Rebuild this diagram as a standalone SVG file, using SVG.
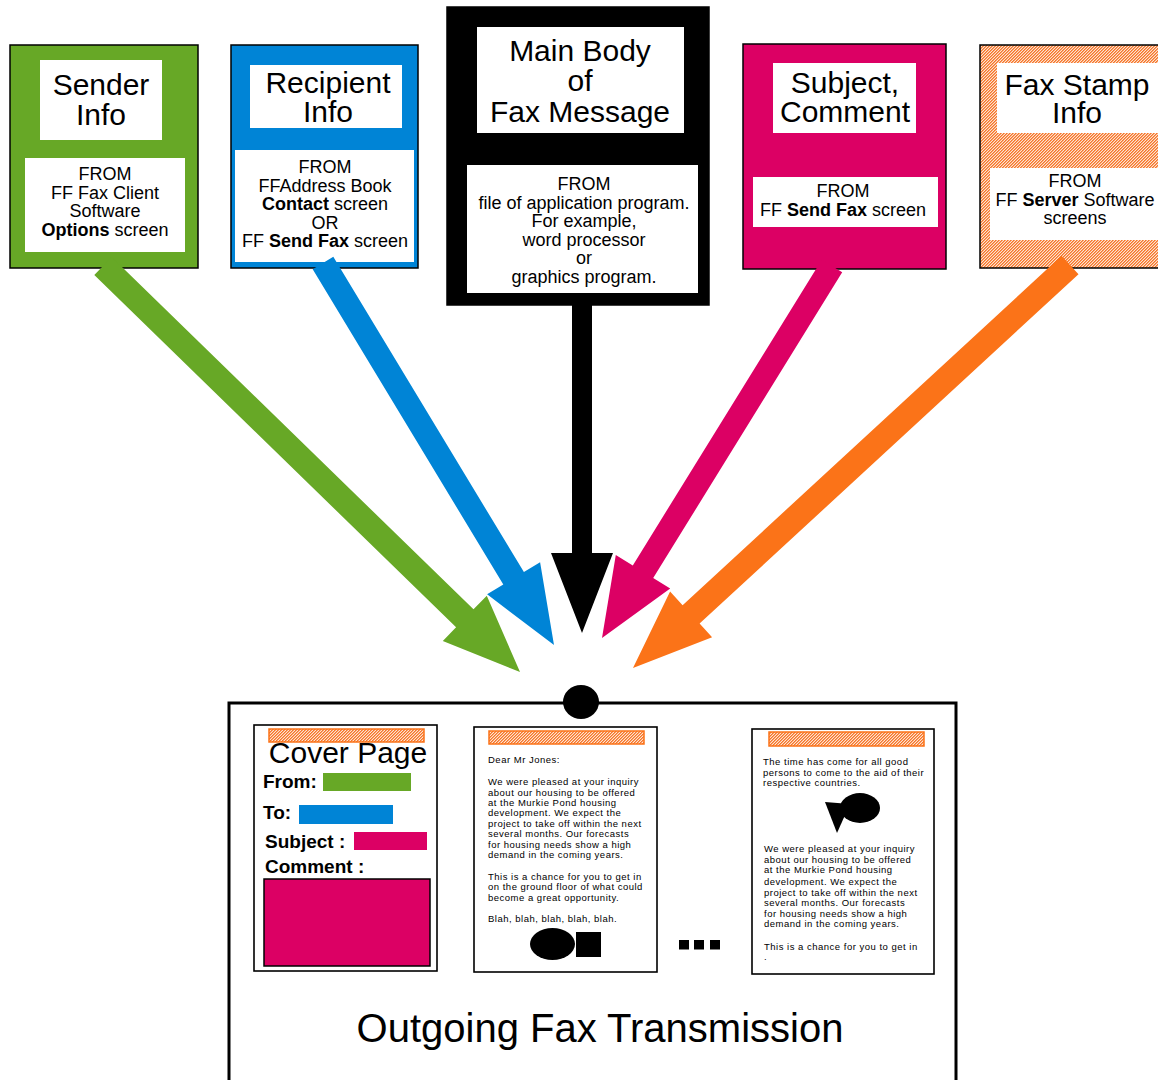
<svg xmlns="http://www.w3.org/2000/svg" width="1158" height="1080" viewBox="0 0 1158 1080">
<defs>
<pattern id="hatch" patternUnits="userSpaceOnUse" width="3" height="3">
<rect width="3" height="3" fill="#fde3d2"/>
<rect x="0" y="2" width="1" height="1" fill="#f6762a"/>
<rect x="1" y="1" width="1" height="1" fill="#f6762a"/>
<rect x="2" y="0" width="1" height="1" fill="#f6762a"/>
<rect x="1" y="2" width="1" height="1" fill="#f9a06a"/>
<rect x="2" y="1" width="1" height="1" fill="#f9a06a"/>
<rect x="0" y="0" width="1" height="1" fill="#f9a06a"/>
</pattern>
</defs>
<style>
text{font-family:"Liberation Sans",Arial,sans-serif;fill:#000}
.outer{stroke:#000;stroke-width:1.5}
.wb{fill:#fff}
.title{font-size:30px;text-anchor:middle}
.from{font-size:18px;text-anchor:middle}
.b{font-weight:bold}
.page{fill:#fff;stroke:#000;stroke-width:1.6}
.bar{fill:url(#hatch);stroke:#fb7318;stroke-width:1.5}
.sm{font-size:9.5px;letter-spacing:0.5px}
.lbl{font-size:19px;font-weight:bold}
</style>
<rect width="1158" height="1080" fill="#fff"/>

<g id="sender">
<rect class="outer" x="10" y="45" width="188" height="223" fill="#67a826"/>
<rect class="wb" x="40" y="60" width="122" height="80"/>
<text class="title" x="101" y="95">Sender</text>
<text class="title" x="101" y="125">Info</text>
<rect class="wb" x="25" y="158" width="160" height="94"/>
<text class="from" x="105" y="180">FROM</text>
<text class="from" x="105" y="198.5">FF Fax Client</text>
<text class="from" x="105" y="217">Software</text>
<text class="from" x="105" y="235.5"><tspan class="b">Options</tspan> screen</text>
</g>

<g id="recipient">
<rect class="outer" x="231" y="45" width="187" height="223" fill="#0084d6"/>
<rect class="wb" x="250" y="65" width="152" height="63"/>
<text class="title" x="328" y="93">Recipient</text>
<text class="title" x="328" y="122">Info</text>
<rect class="wb" x="235" y="150" width="179" height="112"/>
<text class="from" x="325" y="173">FROM</text>
<text class="from" x="325" y="191.5">FFAddress Book</text>
<text class="from" x="325" y="210"><tspan class="b">Contact</tspan> screen</text>
<text class="from" x="325" y="228.5">OR</text>
<text class="from" x="325" y="247"><tspan>FF </tspan><tspan class="b">Send Fax</tspan> screen</text>
</g>

<g id="mainbody">
<rect class="outer" x="447" y="7" width="262" height="298" fill="#000"/>
<rect class="wb" x="477" y="27" width="207" height="106"/>
<text class="title" x="580" y="61">Main Body</text>
<text class="title" x="580" y="91">of</text>
<text class="title" x="580" y="122">Fax Message</text>
<rect class="wb" x="467" y="165" width="231" height="128"/>
<text class="from" x="584" y="190">FROM</text>
<text class="from" x="584" y="208.5">file of application program.</text>
<text class="from" x="584" y="227">For example,</text>
<text class="from" x="584" y="245.5">word processor</text>
<text class="from" x="584" y="264">or</text>
<text class="from" x="584" y="282.5">graphics program.</text>
</g>

<g id="subject">
<rect class="outer" x="743" y="44" width="203" height="225" fill="#dc0064"/>
<rect class="wb" x="773" y="63" width="143" height="70"/>
<text class="title" x="845" y="93">Subject,</text>
<text class="title" x="845" y="122">Comment</text>
<rect class="wb" x="753" y="177" width="185" height="50"/>
<text class="from" x="843" y="197">FROM</text>
<text class="from" x="843" y="215.5"><tspan>FF </tspan><tspan class="b">Send Fax</tspan> screen</text>
</g>

<g id="faxstamp">
<rect class="outer" x="980" y="45" width="190" height="223" fill="url(#hatch)"/>
<rect class="wb" x="997" y="63" width="170" height="70"/>
<text class="title" x="1077" y="95">Fax Stamp</text>
<text class="title" x="1077" y="123">Info</text>
<rect class="wb" x="990" y="168" width="180" height="72"/>
<text class="from" x="1075" y="187">FROM</text>
<text class="from" x="1075" y="205.5"><tspan>FF </tspan><tspan class="b">Server</tspan> Software</text>
<text class="from" x="1075" y="224">screens</text>
</g>

<g id="connectors">
<polygon fill="#67a826" points="94.3,275 456.1,627.3 442.8,640.9 520,672 486.8,595.7 473.5,609.3 111.7,257"/>
<polygon fill="#0084d6" points="312.7,269.2 503.3,584.5 487.1,594.3 554,645 540.1,562.3 523.9,572.1 333.3,256.8"/>
<polygon fill="#000" points="572,300 592,300 592,553 613,553 582,633 551,553 572,553"/>
<polygon fill="#dc0064" points="821.8,259.7 632.8,565.4 615.8,554.9 602,638 670.2,588.5 653.2,578 842.2,272.3"/>
<polygon fill="#fb7318" points="1061.5,255.8 682.6,605.2 670.1,591.6 633,668 712.1,637.2 699.6,623.6 1078.5,274.2"/>
</g>

<g id="transmission">
<rect x="229" y="703" width="727" height="390" fill="#fff" stroke="#000" stroke-width="3"/>
<ellipse cx="581" cy="702" rx="18" ry="17" fill="#000"/>
<text x="600" y="1042" font-size="40" text-anchor="middle">Outgoing Fax Transmission</text>
<rect x="679" y="940" width="10" height="9.5" fill="#000"/>
<rect x="694" y="940" width="10" height="9.5" fill="#000"/>
<rect x="710" y="940" width="10" height="9.5" fill="#000"/>
</g>

<g id="coverpage">
<rect class="page" x="254" y="725" width="183" height="246"/>
<rect class="bar" x="269" y="729" width="155" height="13"/>
<text x="348" y="763" font-size="30" text-anchor="middle">Cover Page</text>
<text class="lbl" x="263" y="788">From:</text>
<rect x="323" y="773" width="88" height="18" fill="#67a826"/>
<text class="lbl" x="263" y="819">To:</text>
<rect x="299" y="805" width="94" height="19" fill="#0084d6"/>
<text class="lbl" x="265" y="848">Subject :</text>
<rect x="354" y="832" width="73" height="18" fill="#dc0064"/>
<text class="lbl" x="265" y="873">Comment :</text>
<rect x="264" y="879" width="166" height="87" fill="#dc0064" stroke="#000" stroke-width="1.5"/>
</g>

<g id="page2">
<rect class="page" x="474" y="727" width="183" height="245"/>
<rect class="bar" x="489" y="731" width="155" height="13"/>
<text class="sm" x="488" y="763">Dear Mr Jones:</text>
<text class="sm" x="488" y="785">We were pleased at your inquiry</text>
<text class="sm" x="488" y="795.5">about our housing to be offered</text>
<text class="sm" x="488" y="806">at the Murkie Pond housing</text>
<text class="sm" x="488" y="816">development.  We expect the</text>
<text class="sm" x="488" y="826.5">project to take off within the next</text>
<text class="sm" x="488" y="837">several months.  Our forecasts</text>
<text class="sm" x="488" y="847.5">for housing needs show a high</text>
<text class="sm" x="488" y="858">demand in the coming years.</text>
<text class="sm" x="488" y="880">This is a chance for you to get in</text>
<text class="sm" x="488" y="890">on the ground floor of what could</text>
<text class="sm" x="488" y="900.5">become a great opportunity.</text>
<text class="sm" x="488" y="922">Blah, blah, blah, blah, blah.</text>
<ellipse cx="552.5" cy="944" rx="22.5" ry="16" fill="#000"/>
<rect x="576" y="932" width="25" height="25" fill="#000"/>
</g>

<g id="page3">
<rect class="page" x="752" y="729" width="182" height="245"/>
<rect class="bar" x="769" y="732" width="155" height="14"/>
<text class="sm" x="763" y="765">The time has come for all good</text>
<text class="sm" x="763" y="775.5">persons to come to the aid of their</text>
<text class="sm" x="763" y="786">respective countries.</text>
<polygon fill="#000" points="825,802 850,804 837,833"/>
<ellipse cx="860" cy="808" rx="20" ry="15" fill="#000"/>
<text class="sm" x="764" y="852">We were pleased at your inquiry</text>
<text class="sm" x="764" y="863">about our housing to be offered</text>
<text class="sm" x="764" y="873">at the Murkie Pond housing</text>
<text class="sm" x="764" y="885">development.  We expect the</text>
<text class="sm" x="764" y="896">project to take off within the next</text>
<text class="sm" x="764" y="906">several months.  Our forecasts</text>
<text class="sm" x="764" y="917">for housing needs show a high</text>
<text class="sm" x="764" y="927">demand in the coming years.</text>
<text class="sm" x="764" y="950">This is a chance for you to get in</text>
<text class="sm" x="764" y="960">.</text>
</g>
</svg>
